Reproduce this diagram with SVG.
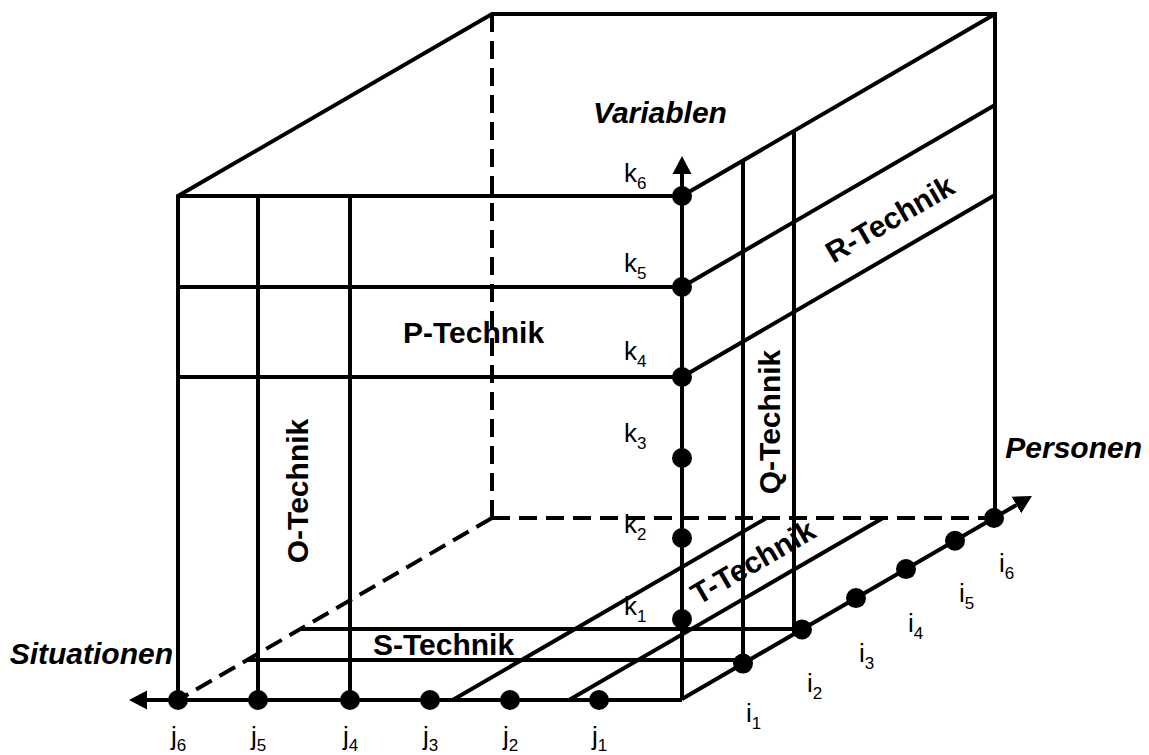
<svg xmlns="http://www.w3.org/2000/svg" width="1149" height="755" viewBox="0 0 1149 755">
<style>
.l{stroke:#000;stroke-width:4;fill:none;stroke-linejoin:miter}
.d{stroke:#000;stroke-width:4;fill:none;stroke-dasharray:18 9}
.dot{fill:#000}
.ax{font-family:"Liberation Sans",Arial,sans-serif;font-size:30px;font-weight:bold;font-style:italic;fill:#000}
.tk{font-family:"Liberation Sans",Arial,sans-serif;font-size:30px;font-weight:bold;fill:#000}
.ix{font-family:"Liberation Sans",Arial,sans-serif;font-size:26px;fill:#000}
.ix tspan{font-size:17px}
</style>
<defs>
<marker id="arr" markerUnits="userSpaceOnUse" markerWidth="18" markerHeight="20" viewBox="0 0 18 20" refX="0" refY="10" orient="auto">
<path d="M0,0.5 L18,10 L0,19.5 z" fill="#000"/>
</marker>
</defs>
<rect width="1149" height="755" fill="#fff"/>

<g id="hidden-edges">
<line class="d" x1="492" y1="14" x2="492" y2="518"/>
<line class="d" x1="492" y1="518" x2="995" y2="518"/>
<line class="d" x1="492" y1="518" x2="178" y2="700"/>
</g>

<g id="cube">
<polyline class="l" points="178,700 178,196 492,14 995,14 995,518"/>
<line class="l" x1="178" y1="196" x2="682" y2="196"/>
<line class="l" x1="682" y1="196" x2="995" y2="14"/>
</g>

<g id="p-plane">
<line class="l" x1="178" y1="287" x2="682" y2="287"/>
<line class="l" x1="178" y1="377" x2="682" y2="377"/>
</g>
<g id="o-plane">
<line class="l" x1="258" y1="196" x2="258" y2="700"/>
<line class="l" x1="350" y1="196" x2="350" y2="700"/>
</g>
<g id="r-plane">
<line class="l" x1="682" y1="287" x2="995" y2="105"/>
<line class="l" x1="682" y1="377" x2="995" y2="195"/>
</g>
<g id="q-plane">
<line class="l" x1="743" y1="160.6" x2="743" y2="664"/>
<line class="l" x1="794" y1="131" x2="794" y2="634"/>
</g>
<g id="s-plane">
<line class="l" x1="300" y1="629" x2="802" y2="629"/>
<line class="l" x1="247" y1="660" x2="743" y2="660"/>
</g>
<g id="t-plane">
<line class="l" x1="452.7" y1="700" x2="766.5" y2="518"/>
<line class="l" x1="569" y1="700" x2="883" y2="518"/>
</g>

<g id="connectors">
<line class="l" x1="682" y1="700" x2="147" y2="700" marker-end="url(#arr)"/>
<line class="l" x1="682" y1="700" x2="682" y2="174" marker-end="url(#arr)"/>
<line class="l" x1="682" y1="699" x2="1016.4" y2="505" marker-end="url(#arr)"/>
</g>

<g id="dots">
<circle class="dot" cx="178" cy="700" r="10"/>
<circle class="dot" cx="258" cy="700" r="10"/>
<circle class="dot" cx="350" cy="700" r="10"/>
<circle class="dot" cx="430" cy="700" r="10"/>
<circle class="dot" cx="510" cy="700" r="10"/>
<circle class="dot" cx="599" cy="700" r="10"/>
<circle class="dot" cx="682" cy="196" r="10"/>
<circle class="dot" cx="682" cy="287" r="10"/>
<circle class="dot" cx="682" cy="377" r="10"/>
<circle class="dot" cx="682" cy="458" r="10"/>
<circle class="dot" cx="682" cy="538" r="10"/>
<circle class="dot" cx="682" cy="619" r="10"/>
<circle class="dot" cx="743" cy="663.6" r="10"/>
<circle class="dot" cx="802" cy="629.4" r="10"/>
<circle class="dot" cx="856" cy="598.1" r="10"/>
<circle class="dot" cx="906" cy="569.1" r="10"/>
<circle class="dot" cx="955" cy="540.7" r="10"/>
<circle class="dot" cx="994" cy="518" r="10"/>
</g>

<g id="axis-titles">
<text class="ax" x="593" y="123">Variablen</text>
<text class="ax" x="1142" y="458" text-anchor="end">Personen</text>
<text class="ax" x="173" y="664" text-anchor="end">Situationen</text>
</g>

<g id="technik-labels">
<text class="tk" x="403" y="343">P-Technik</text>
<text class="tk" x="373" y="655">S-Technik</text>
<text class="tk" text-anchor="middle" transform="translate(308,491) rotate(-90)">O-Technik</text>
<text class="tk" text-anchor="middle" transform="translate(780,422) rotate(-90)">Q-Technik</text>
<text class="tk" text-anchor="middle" transform="translate(758,571) rotate(-30.1)">T-Technik</text>
<text class="tk" text-anchor="middle" transform="translate(895,228) rotate(-30.1)">R-Technik</text>
</g>

<g id="k-labels">
<text class="ix" x="624" y="182">k<tspan dy="7">6</tspan></text>
<text class="ix" x="624" y="272">k<tspan dy="7">5</tspan></text>
<text class="ix" x="624" y="360">k<tspan dy="7">4</tspan></text>
<text class="ix" x="624" y="442">k<tspan dy="7">3</tspan></text>
<text class="ix" x="624" y="533">k<tspan dy="7">2</tspan></text>
<text class="ix" x="624" y="615">k<tspan dy="7">1</tspan></text>
</g>

<g id="j-labels">
<text class="ix" x="171" y="745">j<tspan dy="6">6</tspan></text>
<text class="ix" x="251" y="745">j<tspan dy="6">5</tspan></text>
<text class="ix" x="343" y="745">j<tspan dy="6">4</tspan></text>
<text class="ix" x="423" y="745">j<tspan dy="6">3</tspan></text>
<text class="ix" x="503" y="745">j<tspan dy="6">2</tspan></text>
<text class="ix" x="592" y="745">j<tspan dy="6">1</tspan></text>
</g>

<g id="i-labels">
<text class="ix" x="746" y="722">i<tspan dy="7">1</tspan></text>
<text class="ix" x="807" y="692">i<tspan dy="7">2</tspan></text>
<text class="ix" x="859" y="662">i<tspan dy="7">3</tspan></text>
<text class="ix" x="908" y="632">i<tspan dy="7">4</tspan></text>
<text class="ix" x="959" y="602">i<tspan dy="7">5</tspan></text>
<text class="ix" x="999" y="572">i<tspan dy="7">6</tspan></text>
</g>
</svg>
